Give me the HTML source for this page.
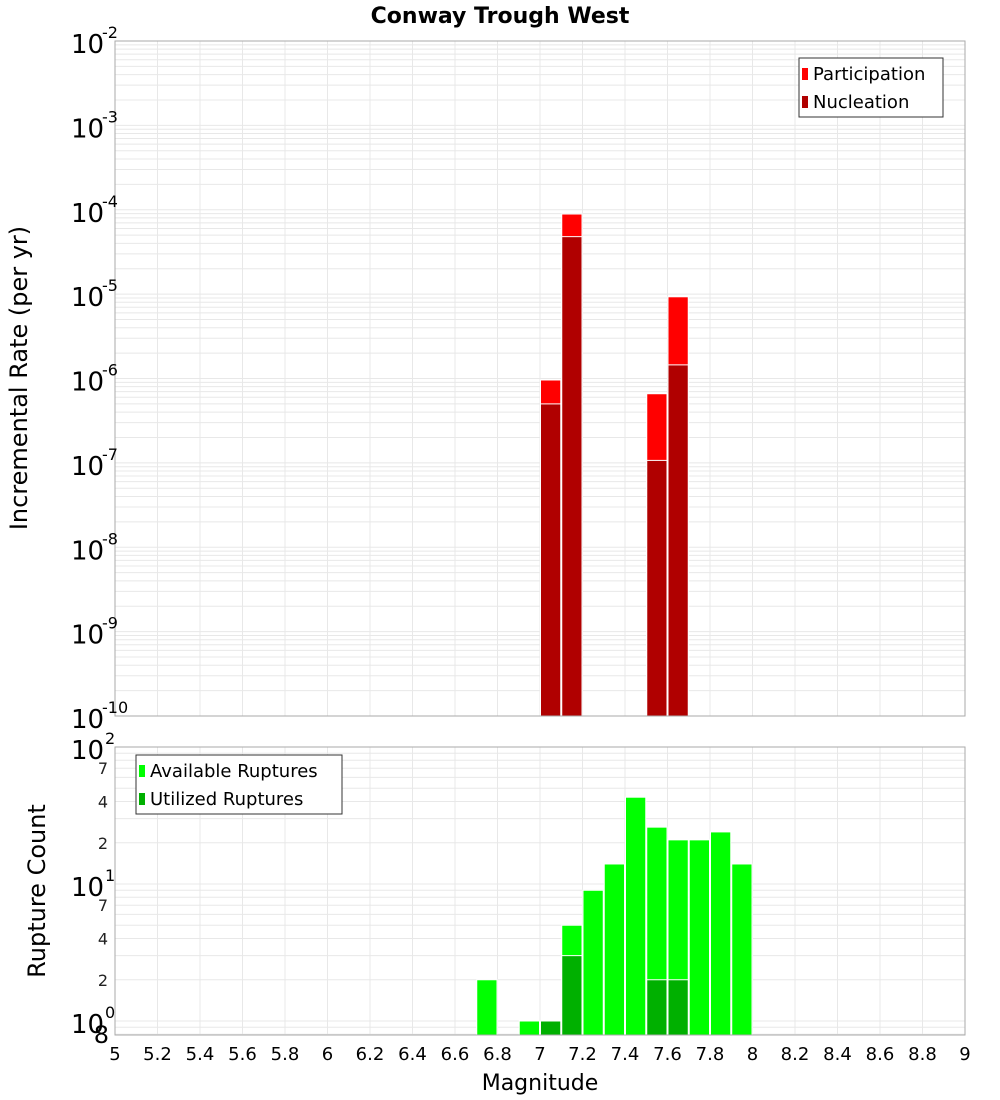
<!DOCTYPE html>
<html><head><meta charset="utf-8"><style>
body{margin:0;background:#fff;font-family:"Liberation Sans","DejaVu Sans",sans-serif}
svg{display:block}
text{font-family:"DejaVu Sans","Liberation Sans",sans-serif}
</style></head><body>
<svg id="c" width="1000" height="1100"></svg>
<script>
const mags=[6.75,6.95,7.05,7.15,7.25,7.35,7.45,7.55,7.65,7.75,7.85,7.95];
const rateMags=[7.05,7.15,7.55,7.65];
const participation=[9.6e-7,8.9e-5,6.6e-7,9.3e-6];
const nucleation=[5.0e-7,4.8e-5,1.07e-7,1.45e-6];
const available=[2,1,1,5,9,14,43,26,21,21,24,14];
const utilized=[0,0,1,3,0,0,0,2,2,0,0,0];
const xTicks=[5,5.2,5.4,5.6,5.8,6,6.2,6.4,6.6,6.8,7,7.2,7.4,7.6,7.8,8,8.2,8.4,8.6,8.8,9];
const topExp=[-2,-3,-4,-5,-6,-7,-8,-9,-10];
const botMinor=[[2,'2'],[4,'4'],[7,'7'],[20,'2'],[40,'4'],[70,'7']];

const NS='http://www.w3.org/2000/svg';
const svg=document.getElementById('c');
function el(t,a,p){const e=document.createElementNS(NS,t);for(const k in a)e.setAttribute(k,a[k]);(p||svg).appendChild(e);return e;}
const X0=115,X1=965;
const x=m=>X0+(m-5)/4*(X1-X0);
const T0=41,T1=716;
const yT=v=>T0+(-2-Math.log10(v))*(T1-T0)/8;
const B0=747,BD=137;
const yB=v=>B0+(2-Math.log10(v))*BD;
const B1=1035;

const ti=el('text',{x:500,y:23,'text-anchor':'middle','font-size':22,'font-weight':'bold'});ti.textContent='Conway Trough West';



const gt=el('g',{stroke:'#e8e8e8','stroke-width':1});


for(let e=-10;e<-2;e++)for(let k=1;k<10;k++){const y=yT(k*Math.pow(10,e));if(y>=T0&&y<=T1)el('line',{x1:X0,x2:X1,y1:y,y2:y},gt);}
xTicks.forEach(t=>el('line',{x1:x(t),x2:x(t),y1:T0,y2:T1},gt));
const gb=el('g',{stroke:'#e8e8e8','stroke-width':1});


for(let e=-1;e<2;e++)for(let k=1;k<10;k++){const y=yB(k*Math.pow(10,e));if(y>=B0&&y<=B1)el('line',{x1:X0,x2:X1,y1:y,y2:y},gb);}
xTicks.forEach(t=>el('line',{x1:x(t),x2:x(t),y1:B0,y2:B1},gb));

rateMags.forEach((m,i)=>{
  const b=el('rect',{x:x(m-0.05)+0.5,y:yT(participation[i]),width:x(m+0.05)-x(m-0.05)-1,height:T1-yT(participation[i]),fill:'#ff0000',stroke:'#fff','stroke-width':1});
  
  
  const n=el('rect',{x:x(m-0.05)+0.5,y:yT(nucleation[i]),width:x(m+0.05)-x(m-0.05)-1,height:T1-yT(nucleation[i]),fill:'#b00000',stroke:'#fff','stroke-width':1});
  
  
});
mags.forEach((m,i)=>{
  const a=el('rect',{x:x(m-0.05)+0.5,y:yB(available[i]),width:x(m+0.05)-x(m-0.05)-1,height:B1-yB(available[i]),fill:'#00ff00',stroke:'#fff','stroke-width':1});
  
  
  if(utilized[i]>0){
    const u=el('rect',{x:x(m-0.05)+0.5,y:yB(utilized[i]),width:x(m+0.05)-x(m-0.05)-1,height:B1-yB(utilized[i]),fill:'#00b000',stroke:'#fff','stroke-width':1});
    
    
  }
});
const f1=el('rect',{x:X0,y:T0,width:X1-X0,height:T1-T0,fill:'none',stroke:'#aaa'});


const f2=el('rect',{x:X0,y:B0,width:X1-X0,height:B1-B0,fill:'none',stroke:'#aaa'});



topExp.forEach(e=>{
  const y=yT(Math.pow(10,e));
  const t=el('text',{x:71,y:y+12,'font-size':26});t.textContent='10';
  
  
  const s=el('text',{x:102,y:y-3,'font-size':16});s.textContent=String(e);
  
  
});
[[2,'2'],[1,'1'],[0,'0']].forEach(([e,s])=>{
  const y=yB(Math.pow(10,e));
  const t=el('text',{x:71,y:y+12,'font-size':26});t.textContent='10';
  
  
  const u=el('text',{x:105,y:y-3,'font-size':16});u.textContent=s;
  
  
});
botMinor.forEach(([v,s])=>{
  const t=el('text',{x:108,y:yB(v)+6,'font-size':16,'text-anchor':'end',fill:'#222'});t.textContent=s;
  
  
});
const e8=el('text',{x:109,y:1043,'font-size':24,'text-anchor':'end'});e8.textContent='8';


xTicks.forEach(v=>{
  const t=el('text',{x:x(v),y:1060,'font-size':18,'text-anchor':'middle'});t.textContent=String(v);
  
  
});
const xt=el('text',{x:540,y:1090,'font-size':22,'text-anchor':'middle'});xt.textContent='Magnitude';


const yt1=el('text',{x:0,y:0,'font-size':24,'text-anchor':'middle',transform:'translate(27,378) rotate(-90)'});yt1.textContent='Incremental Rate (per yr)';


const yt2=el('text',{x:0,y:0,'font-size':24,'text-anchor':'middle',transform:'translate(45,891) rotate(-90)'});yt2.textContent='Rupture Count';



function legend(x0,y0,w,items,name){
  const g=el('g',{});
  
  
  el('rect',{x:x0,y:y0,width:w,height:59,fill:'#fff',stroke:'#333'},g);
  items.forEach(([c,l],i)=>{
    el('rect',{x:x0+3,y:y0+10+i*28,width:6,height:12,fill:c},g);
    const t=el('text',{x:x0+14,y:y0+22+i*28,'font-size':18},g);t.textContent=l;
    
    
  });
}
legend(799,58,144,[['#ff0000','Participation'],['#b00000','Nucleation']],'top-legend');
legend(136,755,206,[['#00ff00','Available Ruptures'],['#00b000','Utilized Ruptures']],'bottom-legend');
</script>
</body></html>
